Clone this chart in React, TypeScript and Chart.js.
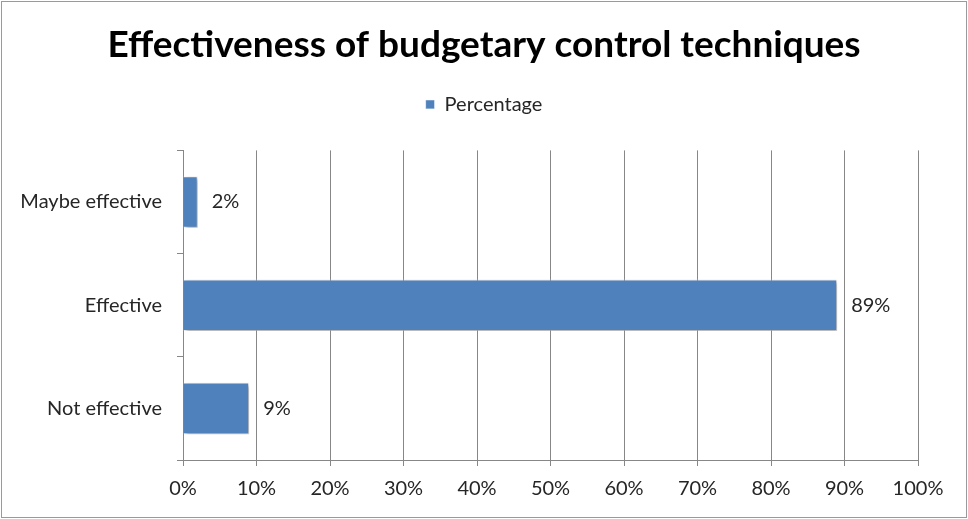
import { useEffect, useRef } from "react";
import { Chart, registerables } from "chart.js";

Chart.register(...registerables);

const chartTitle = "Effectiveness of budgetary control techniques";
const seriesLabel = "Percentage";
const categories = ["Maybe effective", "Effective", "Not effective"];
const percentages = [2, 89, 9];
const xTickValues = [0, 10, 20, 30, 40, 50, 60, 70, 80, 90, 100];

const FONT = "Lato, 'Open Sans', sans-serif";
const GRID = "#878787";
const BAR = "#4F81BD";
const TEXT = "#262626";

const framePlugin = {
  id: "frame",
  beforeDraw(chart: any) {
    const { ctx, width, height } = chart;
    ctx.save();
    ctx.fillStyle = "#ffffff";
    ctx.fillRect(0, 0, width, height);
    ctx.strokeStyle = "#9a9a9a";
    ctx.lineWidth = 1;
    ctx.strokeRect(1.5, 1.5, width - 3, height - 3);
    ctx.restore();
  },
};

const shadowPlugin = {
  id: "barShadow",
  beforeDatasetsDraw(chart: any) {
    const ctx = chart.ctx;
    ctx.save();
    ctx.shadowColor = "rgba(0,0,0,0.35)";
    ctx.shadowBlur = 4;
    ctx.shadowOffsetX = 2;
    ctx.shadowOffsetY = 2;
  },
  afterDatasetsDraw(chart: any) {
    chart.ctx.restore();
  },
};

const valueLabelPlugin = {
  id: "valueLabels",
  afterDatasetsDraw(chart: any) {
    const { ctx } = chart;
    const meta = chart.getDatasetMeta(0);
    ctx.save();
    ctx.font = `20px ${FONT}`;
    ctx.fillStyle = TEXT;
    ctx.textAlign = "left";
    ctx.textBaseline = "middle";
    meta.data.forEach((bar: any, i: number) => {
      const v = chart.data.datasets[0].data[i];
      ctx.fillText(`${v}%`, bar.x + 14, bar.y);
    });
    ctx.restore();
  },
};

export default function App() {
  const ref = useRef<HTMLCanvasElement | null>(null);

  useEffect(() => {
    if (!ref.current) return;
    const chart = new Chart(ref.current, {
      type: "bar",
      data: {
        labels: categories,
        datasets: [
          {
            label: seriesLabel,
            data: percentages,
            backgroundColor: BAR,
            borderColor: "rgba(255,255,255,0.6)",
            borderWidth: 1,
            barPercentage: 0.5,
            categoryPercentage: 1,
          },
        ],
      },
      options: {
        indexAxis: "y",
        responsive: false,
        animation: false,
        devicePixelRatio: 1,
        layout: { padding: { left: 0, right: 0, top: 0, bottom: 0 } },
        plugins: {
          title: {
            display: true,
            text: chartTitle,
            color: "#000000",
            font: { family: FONT, size: 37, weight: "bold", lineHeight: 1.2 },
            padding: { top: 23, bottom: 0 },
          },
          legend: {
            display: true,
            position: "top",
            labels: {
              boxWidth: 9,
              boxHeight: 9,
              padding: 27,
              color: TEXT,
              font: { family: FONT, size: 20 },
            },
          },
          subtitle: {
            display: true,
            text: "",
            position: "top",
            weight: 500,
            font: { size: 10, lineHeight: 1.2 },
            padding: { top: 14, bottom: 0 },
          },
          tooltip: { enabled: false },
        },
        scales: {
          x: {
            type: "linear",
            min: 0,
            max: 100,
            afterFit: (s: any) => {
              s.height = 59;
            },
            afterBuildTicks: (s: any) => {
              s.ticks = xTickValues.map((v) => ({ value: v }));
            },
            grid: { color: GRID, lineWidth: 1, tickLength: 6, drawTicks: true },
            border: { color: GRID, width: 1 },
            ticks: {
              color: TEXT,
              padding: 11,
              font: { family: FONT, size: 20 },
              callback: (v: any) => `${v}%`,
            },
          },
          y: {
            afterFit: (s: any) => {
              s.width = 183;
            },
            grid: { drawOnChartArea: false, color: GRID, tickLength: 6, offset: true },
            border: { color: GRID, width: 1 },
            ticks: {
              color: TEXT,
              padding: 15,
              font: { family: FONT, size: 20 },
            },
          },
          rightSpace: {
            type: "linear",
            position: "right",
            display: true,
            afterFit: (s: any) => {
              s.width = 50;
            },
            grid: { display: false, drawTicks: false },
            border: { display: false },
            ticks: { display: false },
          },
        },
      },
      plugins: [framePlugin, shadowPlugin, valueLabelPlugin],
    });
    return () => chart.destroy();
  }, []);

  return (
    <div style={{ position: "fixed", left: 0, top: 0, width: 968, height: 519 }}>
      <canvas ref={ref} width={968} height={519} style={{ display: "block" }} />
    </div>
  );
}
